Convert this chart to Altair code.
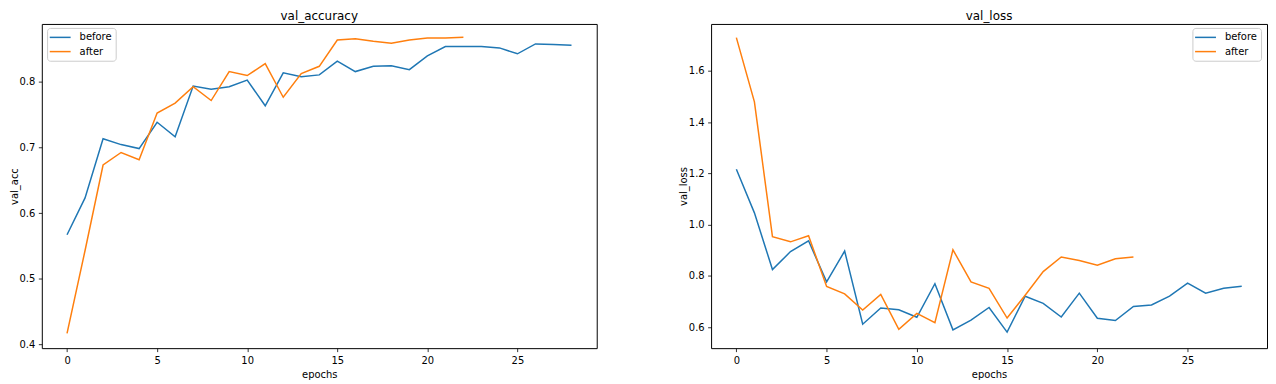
import altair as alt
import pandas as pd

epochs_before = list(range(29))
epochs_after = list(range(23))

acc_before = [0.567, 0.623, 0.713, 0.704, 0.698, 0.738, 0.716, 0.793, 0.788, 0.792,
              0.802, 0.763, 0.813, 0.807, 0.810, 0.831, 0.815, 0.823, 0.824, 0.818,
              0.839, 0.853, 0.853, 0.853, 0.851, 0.842, 0.857, 0.856, 0.855]
acc_after = [0.417, 0.543, 0.673, 0.692, 0.681, 0.752, 0.767, 0.792, 0.771, 0.815,
             0.809, 0.827, 0.776, 0.812, 0.823, 0.863, 0.865, 0.861, 0.858, 0.863,
             0.866, 0.866, 0.867]
loss_before = [1.216, 1.046, 0.825, 0.895, 0.937, 0.777, 0.897, 0.612, 0.675, 0.668,
               0.639, 0.770, 0.590, 0.628, 0.677, 0.581, 0.721, 0.693, 0.640, 0.733,
               0.635, 0.626, 0.681, 0.687, 0.721, 0.772, 0.733, 0.752, 0.760]
loss_after = [1.729, 1.479, 0.953, 0.933, 0.957, 0.759, 0.730, 0.667, 0.728, 0.592,
              0.654, 0.618, 0.902, 0.777, 0.752, 0.636, 0.725, 0.817, 0.874, 0.860,
              0.842, 0.867, 0.874]

series_names = ["before", "after"]
colors = ["#1f77b4", "#ff7f0e"]
x_ticks = [0, 5, 10, 15, 20, 25]
acc_ticks = [0.4, 0.5, 0.6, 0.7, 0.8]
loss_ticks = [0.6, 0.8, 1.0, 1.2, 1.4, 1.6]


def long_df(before, after):
    rows = []
    for i, v in zip(epochs_before, before):
        rows.append({"epoch": i, "value": v, "series": "before"})
    for i, v in zip(epochs_after, after):
        rows.append({"epoch": i, "value": v, "series": "after"})
    return pd.DataFrame(rows)


FONT = "DejaVu Sans"


def panel(df, title, ytitle, ydom, yticks, lx, ly, width):
    return alt.Chart(df, title=alt.TitleParams(title, fontSize=12, fontWeight="normal",
                                               font=FONT, color="#000", offset=1)).mark_line(
        strokeWidth=1.5, clip=True
    ).encode(
        x=alt.X("epoch:Q", title="epochs",
                scale=alt.Scale(domain=[-1.4, 29.4], nice=False, zero=False),
                axis=alt.Axis(values=x_ticks, format="d")),
        y=alt.Y("value:Q", title=ytitle,
                scale=alt.Scale(domain=ydom, nice=False, zero=False),
                axis=alt.Axis(values=yticks, format=".1f")),
        color=alt.Color("series:N",
                        scale=alt.Scale(domain=series_names, range=colors),
                        legend=alt.Legend(title=None, orient="none", legendX=lx, legendY=ly)),
        order=alt.Order("epoch:Q"),
    ).properties(width=width, height=326)


left = panel(long_df(acc_before, acc_after), "val_accuracy", "val_acc",
             [0.3946, 0.8874], acc_ticks, 5.3, 4, 558)
right = panel(long_df(loss_before, loss_after), "val_loss", "val_loss",
              [0.5186, 1.7824], loss_ticks, 484, 4, 559)

chart = alt.hconcat(left, right, spacing=80).resolve_scale(
    color="independent"
).resolve_legend(color="independent").properties(
    padding={"left": 0, "top": 0, "right": 0, "bottom": 0}
).configure_view(
    stroke="#000", strokeWidth=1
).configure_axis(
    domain=False, grid=False,
    tickColor="#000", tickSize=3.5, tickWidth=0.8,
    labelFont=FONT, labelFontSize=10, labelColor="#000",
    titleFont=FONT, titleFontSize=10, titleColor="#000", titleFontWeight="normal",
).configure_axisX(labelPadding=4, titlePadding=4).configure_axisY(
    labelPadding=3.5, titlePadding=0
).configure_legend(
    symbolType="M-1.3,0H2.7", symbolStrokeWidth=1.5, symbolSize=110.25,
    labelFont=FONT, labelFontSize=10, labelColor="#000", labelOffset=17.2,
    strokeColor="#cccccc", fillColor="rgba(255,255,255,0.8)", cornerRadius=3,
    padding=3.5, rowPadding=3.3,
)

chart.save("out.html", embed_options={"renderer": "svg", "actions": False})
